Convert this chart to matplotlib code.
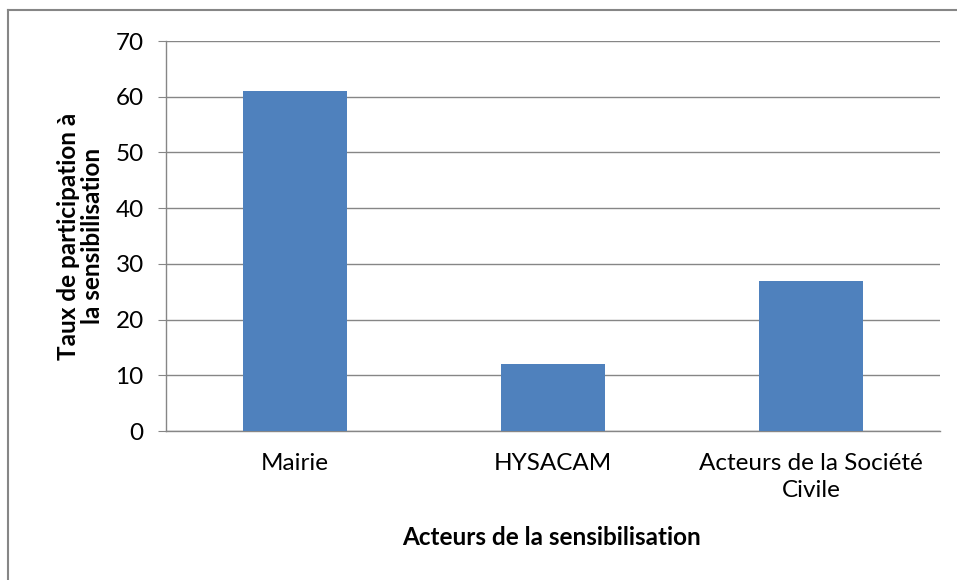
import matplotlib.pyplot as plt
from matplotlib.lines import Line2D

acteurs = ['Mairie', 'HYSACAM', 'Acteurs de la Société\nCivile']
taux = [61, 12, 27]

plt.rcParams['font.family'] = ['Lato', 'DejaVu Sans']

W, H = 957, 580
fig = plt.figure(figsize=(W / 100, H / 100), dpi=100)
ax = fig.add_axes([166/W, 1 - 431/H, (940-166)/W, (431-41)/H])

ax.bar(range(len(acteurs)), taux, width=0.4, color='#4F81BD', zorder=3)

ax.set_xlim(-0.5, len(acteurs) - 0.5)
ax.set_ylim(0, 70)
ax.set_yticks(range(0, 71, 10))
ax.set_xticks(range(len(acteurs)))
ax.set_xticklabels(acteurs, fontsize=17.5, linespacing=1.35)
ax.tick_params(axis='y', labelsize=17.5, length=6, color='#868686', pad=10)
ax.tick_params(axis='x', length=0, pad=16)
ax.grid(axis='y', color='#868686', linewidth=1, zorder=0)

for s in ['top', 'right']:
    ax.spines[s].set_visible(False)
for s in ['left', 'bottom']:
    ax.spines[s].set_color('#868686')
    ax.spines[s].set_linewidth(1)

ax.set_ylabel('Taux de participation à\nla sensibilisation', fontsize=17.5,
              fontweight='bold', linespacing=1.05)
ax.yaxis.set_label_coords((104-166)/774, 0.5)
ax.set_xlabel('Acteurs de la sensibilisation', fontsize=17.5, fontweight='bold')
ax.xaxis.set_label_coords((552-166)/774, -(526-431)/390)

# outer chart border (left and top edges visible)
fig.add_artist(Line2D([8/W, 8/W], [0, 1 - 10/H], color='#868686', linewidth=1.5))
fig.add_artist(Line2D([8/W, 1], [1 - 10/H, 1 - 10/H], color='#868686', linewidth=1.5))

plt.savefig('out.png', dpi=100)
